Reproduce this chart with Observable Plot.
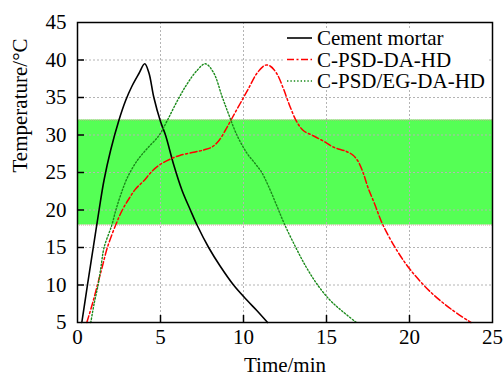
<!DOCTYPE html>
<html><head><meta charset="utf-8">
<script src="https://cdn.jsdelivr.net/npm/d3@7"></script>
<script src="https://cdn.jsdelivr.net/npm/@observablehq/plot@0.6"></script>
<style>
body{margin:0;background:#fff}
#chart{width:503px;height:380px}
</style>
</head><body><div id="chart"></div>
<script>
const seriesNames = ["Cement mortar", "C-PSD-DA-HD", "C-PSD/EG-DA-HD"];
const cementTime = [0.26,0.6,0.95,1.3,1.6,2.0,2.5,2.9,3.3,3.7,4.05,4.3,4.6,5.0,5.3,5.8,6.3,6.8,7.2,7.9,8.6,9.4,10.2,10.8,11.45];
const cementTemp = [5,10,15,20,24,28,32,34.6,36.6,38.2,39.5,38.3,35,31.8,30,26,22.6,20,18,15,12.5,10,8,6.6,5];
const psdTime = [0.56,0.9,1.2,1.5,1.8,2.3,2.7,3.1,3.5,4.0,4.5,5.0,5.6,6.2,7.0,7.6,8.1,8.5,8.9,9.3,9.8,10.3,10.8,11.3,11.6,12.0,12.4,12.8,13.2,13.6,14.2,14.8,15.4,16.2,16.6,16.9,17.2,17.5,17.9,18.4,19.3,20.1,21.3,22.5,23.7];
const psdTemp = [5,7.5,10,12.5,15,18,20,21.5,22.8,23.9,25.2,26.1,26.8,27.3,27.7,28,28.4,29.2,30.6,32.2,34.2,36.2,38.2,39.3,39.2,38.2,36.2,33.8,31.8,30.6,29.9,29.2,28.4,27.8,27.3,26.5,25,23,20.8,18,14.4,11.9,9,6.8,5];
const egTime = [0.8,1.0,1.24,1.42,1.6,2.07,2.31,2.6,3.0,3.6,4.2,4.9,5.4,6.0,6.6,7.2,7.7,8.2,8.7,9.1,9.6,10.2,10.7,11.1,11.5,12.0,12.45,13.15,13.8,14.5,15.2,15.9,16.8];
const egTemp = [5,7.5,10,12.5,15,18,20,22,24.3,26.6,28.2,29.9,31.9,34.5,36.8,38.6,39.5,38.3,35.2,32.8,30,27.6,26.2,25,23.2,20.6,18.2,15,12.3,9.9,8,6.6,5];
const xTicks = [0,5,10,15,20,25];
const yTicks = [5,10,15,20,25,30,35,40,45];
const bandRange = [18,32];

const toRows = (ts, vs) => ts.map((t, i) => ({t, T: vs[i]}));
const cementRows = toRows(cementTime, cementTemp);
const psdRows = toRows(psdTime, psdTemp);
const egRows = toRows(egTime, egTemp);

const W = 503, H = 380, ml = 77, mr = 11, mt = 22, mb = 58;
const innerW = W - ml - mr, innerH = H - mt - mb;
const font = "'Liberation Serif', 'Times New Roman', serif";
const fs = 21;
const styles = [
  {stroke: "#000000", strokeWidth: 1.6, dash: null},
  {stroke: "#ff0000", strokeWidth: 1.5, dash: "7,2.5,2,2.5"},
  {stroke: "#1a8a1a", strokeWidth: 1.4, dash: "1.4,2"}
];

const plot = Plot.plot({
  width: W, height: H,
  marginLeft: ml, marginRight: mr, marginTop: mt, marginBottom: mb,
  style: {fontSize: fs + "px", color: "#000", background: "#fff", overflow: "visible"},
  x: {domain: [xTicks[0], xTicks[xTicks.length - 1]]},
  y: {domain: [yTicks[0], yTicks[yTicks.length - 1]]},
  marks: [
    Plot.rect([bandRange], {x1: xTicks[0], x2: xTicks[xTicks.length - 1], y1: d => d[0], y2: d => d[1], fill: "#55ff55"}),
    Plot.ruleY(bandRange, {stroke: "#d89a9a", strokeWidth: 1, strokeDasharray: "1,1"}),
    Plot.ruleX(xTicks.slice(1, -1), {stroke: "#b4b4b4", strokeWidth: 1, strokeDasharray: "2,2"}),
    Plot.ruleY(yTicks.slice(1, -1), {stroke: "#b4b4b4", strokeWidth: 1, strokeDasharray: "2,2"}),
    Plot.line(cementRows, {x: "t", y: "T", stroke: styles[0].stroke, strokeWidth: styles[0].strokeWidth, curve: "catmull-rom"}),
    Plot.line(psdRows, {x: "t", y: "T", stroke: styles[1].stroke, strokeWidth: styles[1].strokeWidth, strokeDasharray: styles[1].dash, curve: "catmull-rom"}),
    Plot.line(egRows, {x: "t", y: "T", stroke: styles[2].stroke, strokeWidth: styles[2].strokeWidth, strokeDasharray: styles[2].dash, curve: "catmull-rom"}),
    Plot.ruleX(xTicks.slice(1, -1), {insetTop: innerH - 7, stroke: "#000", strokeWidth: 1.5}),
    Plot.ruleY(yTicks.slice(1, -1), {insetRight: innerW - 7, stroke: "#000", strokeWidth: 1.5}),
    Plot.frame({stroke: "#000", strokeWidth: 1.5}),
    Plot.axisX(xTicks, {tickSize: 0, tickPadding: 7, label: null, fontSize: fs}),
    Plot.axisY(yTicks, {tickSize: 0, tickPadding: 11, label: null, fontSize: fs}),
    Plot.text(["Time/min"], {text: d => d, frameAnchor: "bottom", dy: 49, fontSize: fs}),
    Plot.text(["Temperature/°C"], {text: d => d, frameAnchor: "left", dx: -57, rotate: -90, fontSize: fs})
  ]
});

// legend
const svg = d3.select(plot);
const lg = svg.append("g").attr("font-size", fs).attr("text-anchor", "start");
lg.append("rect").attr("x", 284).attr("y", 29).attr("width", 205).attr("height", 60).attr("fill", "#fff");
seriesNames.forEach((name, i) => {
  const y = 38 + i * 21.5;
  const s = styles[i];
  lg.append("line").attr("x1", 287).attr("x2", 312).attr("y1", y).attr("y2", y)
    .attr("stroke", s.stroke).attr("stroke-width", s.strokeWidth)
    .attr("stroke-dasharray", s.dash);
  lg.append("text").attr("x", 317).attr("y", y).attr("dy", "0.35em").attr("text-anchor", "start").attr("fill", "#000").text(name);
});
// force serif font on every text (inline style has top priority)
svg.style("font-family", font);
svg.selectAll("g").style("font-family", font);
svg.selectAll("text").style("font-family", font).style("font-variant", "normal");

document.getElementById("chart").appendChild(plot);
</script>
</body></html>
